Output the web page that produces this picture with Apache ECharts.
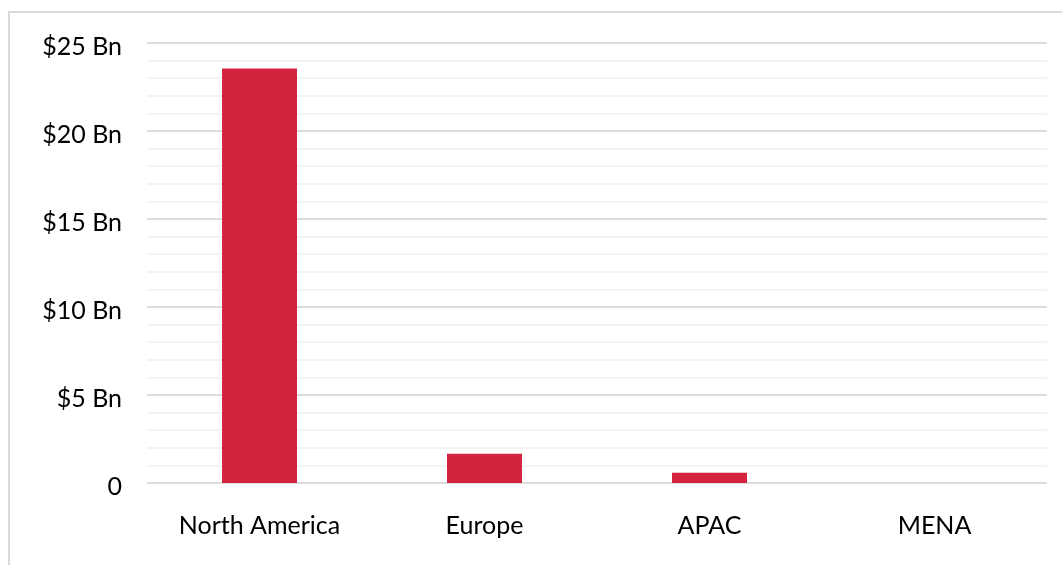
<!DOCTYPE html>
<html>
<head>
<meta charset="utf-8">
<style>
  html, body { margin: 0; padding: 0; background: #fff; }
  #chart { width: 1062px; height: 565px; }
</style>
<script src="https://cdn.jsdelivr.net/npm/echarts@6/dist/echarts.min.js"></script>
</head>
<body>
<div id="chart"></div>
<script>
// Regional totals, in billions of dollars
const regions = ['North America', 'Europe', 'APAC', 'MENA'];
const valuesBn = [23.55, 1.66, 0.58, 0];
const yTicks = [0, 5, 10, 15, 20, 25];

const FONT = '"Lato", "Noto Sans", sans-serif';

const chart = echarts.init(document.getElementById('chart'), null, { renderer: 'canvas' });
chart.setOption({
  backgroundColor: '#ffffff',
  animation: false,
  graphic: [{
    type: 'rect',
    shape: { x: 9, y: 12, width: 1100, height: 600 },
    style: { fill: 'none', stroke: '#d9d9d9', lineWidth: 2 },
    silent: true
  }],
  grid: { left: 147, right: 15, top: 43, bottom: 82, containLabel: false },
  xAxis: {
    type: 'category',
    data: regions,
    axisLine: { show: false },
    axisTick: { show: false },
    axisLabel: { color: '#000', fontSize: 25, fontFamily: FONT, margin: 30 }
  },
  yAxis: {
    type: 'value',
    min: yTicks[0],
    max: yTicks[yTicks.length - 1],
    interval: yTicks[1] - yTicks[0],
    axisLine: { show: false },
    axisTick: { show: false },
    axisLabel: {
      color: '#000', fontSize: 25, fontFamily: FONT, margin: 25,
      formatter: v => '{v|' + (v === 0 ? '0' : '$' + v + ' Bn') + '}',
      rich: {
        v: { color: '#000', fontSize: 25, fontFamily: FONT, padding: [7, 0, 0, 0] }
      }
    },
    splitLine: { lineStyle: { color: '#dcdcdc', width: 2 } },
    minorTick: { show: false, splitNumber: 5 },
    minorSplitLine: { show: true, lineStyle: { color: '#f3f3f3', width: 2 } }
  },
  series: [{
    type: 'bar',
    data: valuesBn,
    barWidth: 75,
    itemStyle: { color: '#d4233e' }
  }]
});
</script>
</body>
</html>
